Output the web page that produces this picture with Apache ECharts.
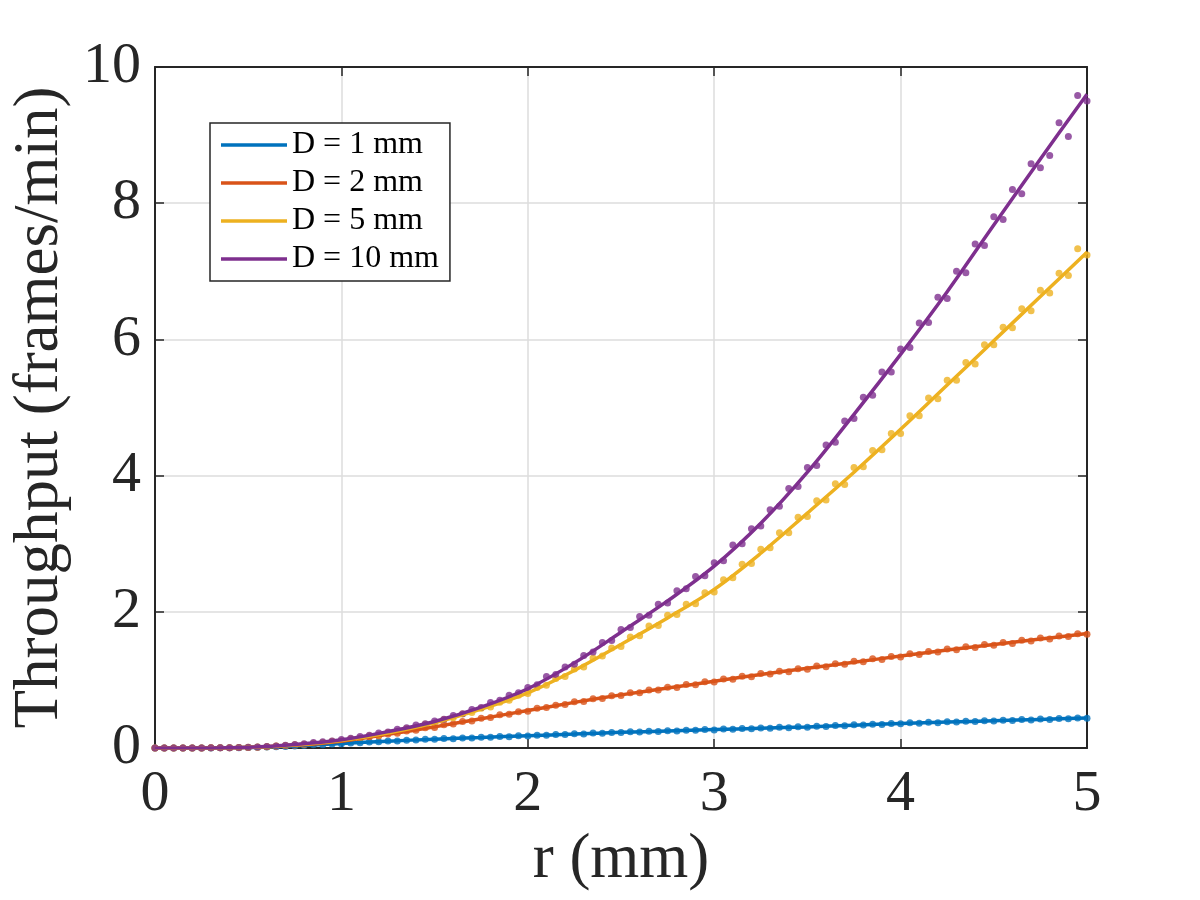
<!DOCTYPE html>
<html>
<head>
<meta charset="utf-8">
<script src="https://cdn.jsdelivr.net/npm/echarts@6/dist/echarts.min.js"></script>
<style>
html,body{margin:0;padding:0;background:#fff;}
#chart{width:1200px;height:900px;}
</style>
</head>
<body>
<div id="chart"></div>
<script>
// ---- data ----
var seriesNames = ['D = 1 mm', 'D = 2 mm', 'D = 5 mm', 'D = 10 mm'];
var xTicks = [0, 1, 2, 3, 4, 5];
var yTicks = [0, 2, 4, 6, 8, 10];

// fitted-curve sample positions (mm)
var rFit = [0,0.25,0.5,0.75,1,1.25,1.5,1.75,2,2.25,2.5,2.75,3,3.25,3.5,3.75,4,4.25,4.5,4.75,5];
var fitD1  = [0,0.001,0.006,0.03,0.065,0.10,0.13,0.155,0.18,0.205,0.23,0.25,0.27,0.29,0.31,0.335,0.36,0.38,0.40,0.42,0.44];
var fitD2  = [0,0.001,0.008,0.04,0.10,0.20,0.31,0.43,0.55,0.67,0.78,0.88,0.98,1.08,1.17,1.26,1.35,1.44,1.52,1.60,1.68];
var fitD5  = [0,0.001,0.01,0.045,0.11,0.22,0.37,0.57,0.81,1.14,1.52,1.91,2.33,2.86,3.45,4.05,4.68,5.33,5.98,6.63,7.28];
var fitD10 = [0,0.001,0.01,0.05,0.12,0.24,0.39,0.60,0.87,1.25,1.70,2.16,2.67,3.30,4.05,4.90,5.78,6.70,7.68,8.65,9.60];

// measured sample positions (mm)
var rDots = [0,0.05,0.1,0.15,0.2,0.25,0.3,0.35,0.4,0.45,0.5,0.55,0.6,0.65,0.7,0.75,0.8,0.85,0.9,0.95,
  1,1.05,1.1,1.15,1.2,1.25,1.3,1.35,1.4,1.45,1.5,1.55,1.6,1.65,1.7,1.75,1.8,1.85,1.9,1.95,
  2,2.05,2.1,2.15,2.2,2.25,2.3,2.35,2.4,2.45,2.5,2.55,2.6,2.65,2.7,2.75,2.8,2.85,2.9,2.95,
  3,3.05,3.1,3.15,3.2,3.25,3.3,3.35,3.4,3.45,3.5,3.55,3.6,3.65,3.7,3.75,3.8,3.85,3.9,3.95,
  4,4.05,4.1,4.15,4.2,4.25,4.3,4.35,4.4,4.45,4.5,4.55,4.6,4.65,4.7,4.75,4.8,4.85,4.9,4.95,5];

var dotsD1 = [0,0,0,0,0.001, 0.001,0.001,0.002,0.003,0.004, 0.006,0.011,0.013,0.020,0.023, 0.031,0.036,0.046,0.049,0.060,
  0.063,0.075,0.077,0.089,0.091, 0.103,0.104,0.115,0.116,0.127, 0.128,0.138,0.137,0.148,0.147, 0.159,0.157,0.168,0.167,0.179,
  0.177,0.189,0.187,0.199,0.197, 0.209,0.207,0.219,0.216,0.229, 0.226,0.238,0.235,0.246,0.243, 0.254,0.251,0.262,0.259,0.270,
  0.266,0.279,0.275,0.287,0.282, 0.295,0.290,0.303,0.298,0.311, 0.306,0.320,0.316,0.330,0.326, 0.340,0.336,0.350,0.345,0.360,
  0.355,0.369,0.364,0.377,0.372, 0.385,0.380,0.393,0.388,0.401, 0.396,0.409,0.404,0.417,0.412, 0.425,0.420,0.433,0.428,0.441, 0.436];

var dotsD2 = [0,0,0,0.001,0.001, 0.001,0.002,0.003,0.005,0.006, 0.009,0.012,0.019,0.024,0.033, 0.042,0.049,0.064,0.072,0.089,
  0.098,0.124,0.137,0.165,0.176, 0.206,0.215,0.251,0.259,0.297, 0.302,0.342,0.352,0.388,0.397, 0.438,0.447,0.489,0.494,0.534,
  0.541,0.583,0.593,0.629,0.637, 0.679,0.683,0.724,0.727,0.769, 0.772,0.811,0.812,0.851,0.850, 0.892,0.889,0.933,0.928,0.972,
  0.969,1.013,1.008,1.053,1.046, 1.094,1.087,1.128,1.121,1.164, 1.158,1.204,1.192,1.238,1.228, 1.275,1.266,1.310,1.301,1.345,
  1.338,1.384,1.372,1.418,1.408, 1.455,1.441,1.485,1.476,1.518, 1.507,1.550,1.536,1.584,1.571, 1.614,1.602,1.644,1.637,1.679, 1.672];

var dotsD5 = [0,0,0,0.001,0.001, 0.001,0.002,0.004,0.005,0.008, 0.010,0.016,0.020,0.029,0.035, 0.047,0.055,0.071,0.080,0.099,
  0.108,0.134,0.147,0.179,0.191, 0.226,0.246,0.287,0.304,0.347, 0.364,0.418,0.443,0.498,0.522, 0.582,0.603,0.672,0.701,0.774,
  0.80,0.89,0.92,1.02,1.05, 1.16,1.19,1.32,1.35,1.47, 1.49,1.63,1.65,1.79,1.80, 1.95,1.96,2.11,2.12,2.28,
  2.29,2.47,2.50,2.70,2.71, 2.92,2.94,3.16,3.16,3.39, 3.40,3.63,3.64,3.88,3.87, 4.12,4.13,4.37,4.38,4.62,
  4.62,4.88,4.88,5.14,5.13, 5.40,5.40,5.66,5.64,5.92, 5.92,6.18,6.17,6.45,6.42, 6.72,6.68,6.97,6.94,7.33, 7.24];

var dotsD10 = [0,0,0,0.001,0.001, 0.001,0.002,0.004,0.005,0.008, 0.011,0.015,0.023,0.031,0.039, 0.052,0.062,0.079,0.092,0.104,
  0.125,0.142,0.168,0.186,0.219, 0.236,0.274,0.296,0.337,0.355, 0.396,0.424,0.478,0.503,0.567, 0.594,0.668,0.702,0.773,0.811,
  0.89,0.93,1.05,1.08,1.19, 1.23,1.36,1.41,1.55,1.58, 1.74,1.77,1.93,1.95,2.11, 2.13,2.31,2.34,2.52,2.53,
  2.72,2.75,2.98,3.00,3.22, 3.26,3.50,3.55,3.81,3.84, 4.12,4.15,4.45,4.49,4.80, 4.84,5.15,5.18,5.52,5.52,
  5.86,5.88,6.24,6.25,6.62, 6.60,7.00,6.98,7.40,7.38, 7.80,7.76,8.20,8.14,8.58, 8.52,8.70,9.18,8.98,9.58, 9.50];

var colors = ['#0072BD', '#D95319', '#EDB120', '#7E2F8E'];

// ---- build ----
function pairs(xs, ys) { return xs.map(function (x, i) { return [x, ys[i]]; }); }
var fits = [fitD1, fitD2, fitD5, fitD10];
var dots = [dotsD1, dotsD2, dotsD5, dotsD10];

var FONT = 'Liberation Serif';
var INK = '#262626';

var series = [];
for (var k = 0; k < 4; k++) {
  series.push({
    name: seriesNames[k] + ' data',
    type: 'scatter',
    data: pairs(rDots, dots[k]),
    symbol: 'circle',
    symbolSize: 7,
    itemStyle: { color: colors[k] },
    silent: true,
    z: 2
  });
  series.push({
    name: seriesNames[k],
    type: 'line',
    data: pairs(rFit, fits[k]),
    smooth: 0.35,
    showSymbol: false,
    symbol: 'none',
    lineStyle: { color: colors[k], width: 3.5 },
    itemStyle: { color: colors[k] },
    silent: true,
    z: 3
  });
}

var axisCommon = {
  axisLine: { show: true, onZero: false, lineStyle: { color: INK, width: 2 } },
  axisTick: { show: true, inside: true, length: 9, lineStyle: { color: INK, width: 1.5 } }
};

var option = {
  animation: false,
  backgroundColor: '#ffffff',
  color: colors,
  grid: { left: 155, right: 113, top: 67, bottom: 152, containLabel: false },
  legend: {
    data: seriesNames.map(function (n) { return { name: n, icon: 'rect' }; }),
    orient: 'vertical',
    left: 210,
    top: 123,
    itemWidth: 66,
    itemHeight: 3.5,
    itemGap: 6,
    padding: [6, 11, 6, 11],
    backgroundColor: '#ffffff',
    borderColor: INK,
    borderWidth: 1.5,
    borderRadius: 0,
    selectedMode: false,
    textStyle: { fontFamily: FONT, fontSize: 32, lineHeight: 32, color: '#000000' }
  },
  xAxis: [
    Object.assign({
      type: 'value', position: 'bottom', min: 0, max: 5, interval: 1,
      name: 'r (mm)', nameLocation: 'middle', nameGap: 80,
      nameTextStyle: { fontFamily: FONT, fontSize: 63, color: INK },
      axisLabel: { show: true, margin: 18, fontFamily: FONT, fontSize: 58, color: INK,
        formatter: function (v) { return xTicks.indexOf(v) >= 0 ? String(v) : ''; } },
      splitLine: { show: true, lineStyle: { color: '#dcdcdc', width: 1.5 } }
    }, axisCommon),
    Object.assign({
      type: 'value', position: 'top', min: 0, max: 5, interval: 1,
      axisLabel: { show: false }, splitLine: { show: false }
    }, axisCommon)
  ],
  yAxis: [
    Object.assign({
      type: 'value', position: 'left', min: 0, max: 10, interval: 2,
      name: 'Throughput (frames/min)', nameLocation: 'middle', nameGap: 78,
      nameTextStyle: { fontFamily: FONT, fontSize: 63, color: INK },
      axisLabel: { show: true, margin: 14, fontFamily: FONT, fontSize: 58, color: INK,
        formatter: function (v) { return yTicks.indexOf(v) >= 0 ? String(v) : ''; } },
      splitLine: { show: true, lineStyle: { color: '#dcdcdc', width: 1.5 } }
    }, axisCommon),
    Object.assign({
      type: 'value', position: 'right', min: 0, max: 10, interval: 2,
      axisLabel: { show: false }, splitLine: { show: false }
    }, axisCommon)
  ],
  series: series
};

var chart = echarts.init(document.getElementById('chart'), null, { renderer: 'canvas' });
chart.setOption(option);
</script>
</body>
</html>
